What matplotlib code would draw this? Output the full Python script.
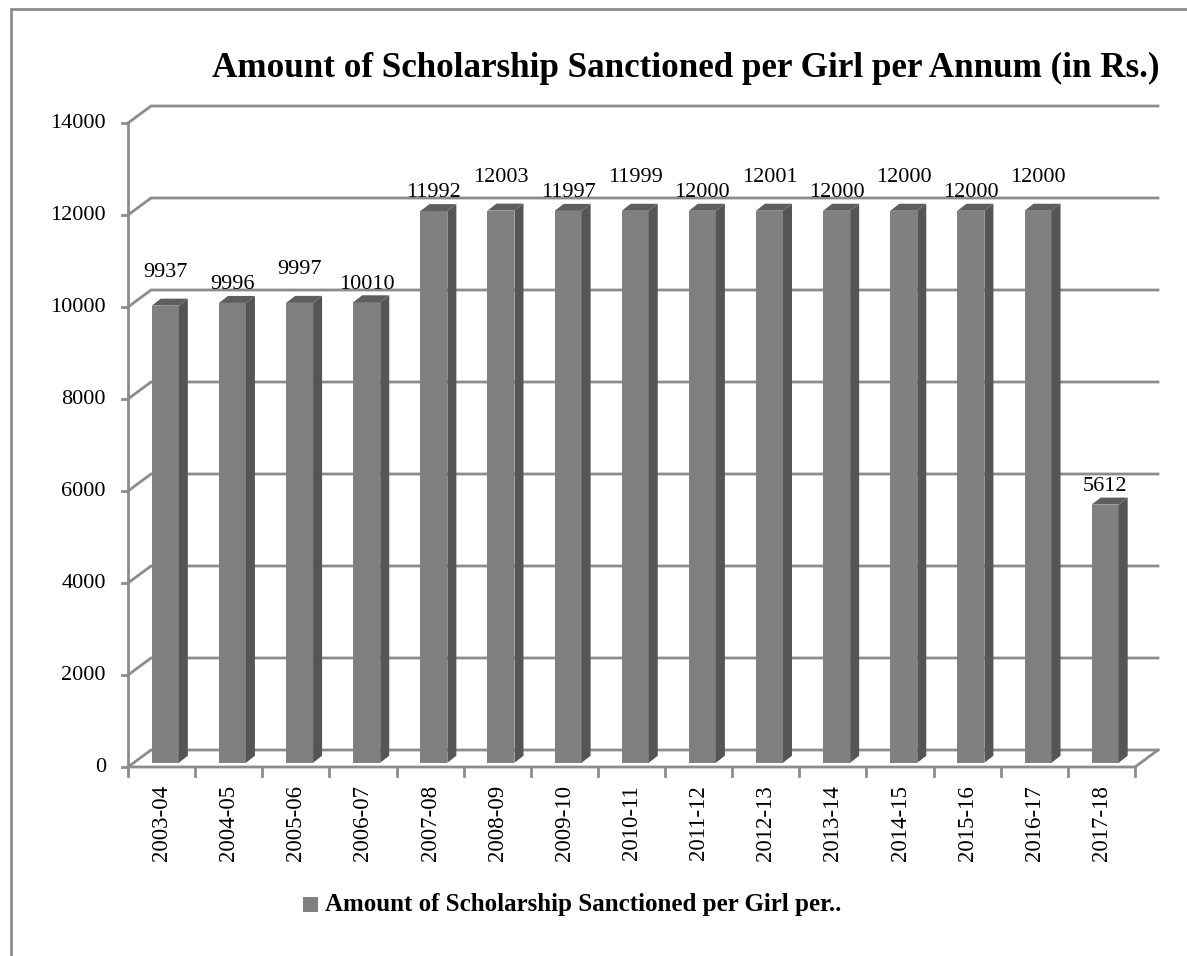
import matplotlib.pyplot as plt
from matplotlib.patches import Polygon, Rectangle

# Data
years = ['2003-04', '2004-05', '2005-06', '2006-07', '2007-08', '2008-09', '2009-10',
         '2010-11', '2011-12', '2012-13', '2013-14', '2014-15', '2015-16', '2016-17', '2017-18']
amounts = [9937, 9996, 9997, 10010, 11992, 12003, 11997, 11999, 12000, 12001,
           12000, 12000, 12000, 12000, 5612]
yticks = [0, 2000, 4000, 6000, 8000, 10000, 12000, 14000]

title = 'Amount of Scholarship Sanctioned per Girl per Annum (in Rs.)'
legend_text = 'Amount of Scholarship Sanctioned per Girl per..'

# which labels Excel nudged up to avoid overlap
raised = [True, False, True, False, False, True, False, True, False, True,
          False, True, False, True, False]

plt.rcParams['font.family'] = ['Liberation Serif', 'DejaVu Serif']

W, H = 1187, 956
fig = plt.figure(figsize=(W / 100, H / 100), dpi=100)

# axes placed in pixel space: x 0..15 spans 128..1135 px, y 0 at 767 px
px_x = (1135 - 128) / 15.0
px_y = 644 / 14000.0
left_px, right_px, top_px = 128, 1165, 95
ax = fig.add_axes([left_px / W, (H - 767) / H, (right_px - left_px) / W, (767 - top_px) / H])
ax.set_xlim(0, (right_px - left_px) / px_x)
ax.set_ylim(0, (767 - top_px) / px_y)
ax.axis('off')

grid_c = '#8c8c8c'
dx, dy = 23 / px_x, 17 / px_y       # back wall depth
n = len(years)

# back wall gridlines + diagonals
for v in yticks:
    ax.plot([0, dx, n + dx], [v, v + dy, v + dy], color=grid_c, lw=2, clip_on=False,
            solid_joinstyle='miter', zorder=1)
    ax.plot([-6 / px_x, 0], [v, v], color=grid_c, lw=2, clip_on=False, zorder=1)
# front axes
ax.plot([0, 0], [0, 14000], color=grid_c, lw=2, clip_on=False, zorder=1)
ax.plot([0, n, n + dx], [0, 0, dy], color=grid_c, lw=2, clip_on=False, zorder=1)
for i in range(n + 1):
    ax.plot([i, i], [0, -9 / px_y], color=grid_c, lw=2, clip_on=False, zorder=1)

# y tick labels
for v in yticks:
    ax.text(-22 / px_x, v, str(v), ha='right', va='center', fontsize=16, clip_on=False)

# 3D-ish bars
f = 0.25
bw = 27 / px_x
tx, ty = 9 / px_x, 7 / px_y
for i, (yr, val) in enumerate(zip(years, amounts)):
    x0 = i + 0.5 - bw / 2 + dx * f - 2 / px_x
    y0 = dy * f
    y1 = val + y0
    ax.add_patch(Rectangle((x0, y0), bw, val, facecolor='#808080', edgecolor='none', zorder=3))
    ax.add_patch(Polygon([(x0 + bw, y0), (x0 + bw + tx, y0 + ty), (x0 + bw + tx, y1 + ty),
                          (x0 + bw, y1)], closed=True, facecolor='#555555', edgecolor='none', zorder=3))
    ax.add_patch(Polygon([(x0, y1), (x0 + tx, y1 + ty), (x0 + bw + tx, y1 + ty),
                          (x0 + bw, y1)], closed=True, facecolor='#5e5e5e', edgecolor='none', zorder=3))
    off = 28 if raised[i] else 13
    ax.annotate(str(val), (x0 + bw / 2, val), xytext=(0, off), textcoords='offset pixels',
                ha='center', va='bottom', fontsize=16, annotation_clip=False)
    ax.text(i + 0.5, -18 / px_y, yr, rotation=90, ha='center', va='top', fontsize=16.5,
            clip_on=False)

# title and legend
fig.text(686 / W, 1 - 68 / H, title, ha='center', va='center', fontsize=25.2, fontweight='bold')
fig.patches.append(Rectangle((303 / W, 1 - 912 / H), 15 / W, 15 / H, transform=fig.transFigure,
                             facecolor='#808080', edgecolor='none'))
fig.text(325 / W, 1 - 905 / H, legend_text, ha='left', va='center', fontsize=18, fontweight='bold')

# outer chart border
fig.patches.append(Rectangle((11 / W, -0.01), 1.1, 1 - 9 / H + 0.01, transform=fig.transFigure,
                             facecolor='none', edgecolor='#8c8c8c', lw=2))

fig.savefig('out.png', dpi=100)
